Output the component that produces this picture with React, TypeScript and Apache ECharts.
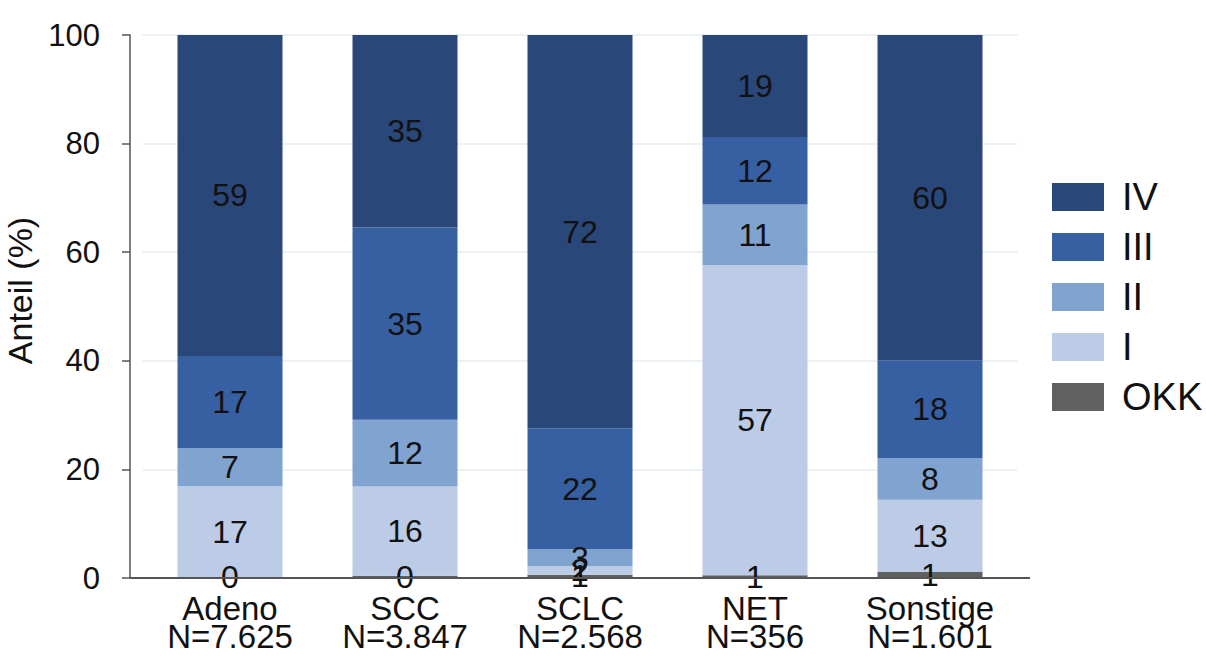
import React, { useEffect, useRef } from "react";
import * as echarts from "echarts";

const categories = ["Adeno", "SCC", "SCLC", "NET", "Sonstige"];
const counts = ["7.625", "3.847", "2.568", "356", "1.601"];
const okk = [0.2, 0.4, 0.6, 0.5, 1.1];
const stageI = [16.7, 16.45, 1.6, 57.1, 13.3];
const stageII = [7.0, 12.3, 3.1, 11.2, 7.7];
const stageIII = [17.0, 35.4, 22.3, 12.4, 18.0];
const stageIV = [59.1, 35.45, 72.4, 18.8, 59.9];
const yTicks = [0, 20, 40, 60, 80, 100];

const seriesDefs = [
  { name: "OKK", data: okk, color: "#606060" },
  { name: "I", data: stageI, color: "#bccce7" },
  { name: "II", data: stageII, color: "#80a3d0" },
  { name: "III", data: stageIII, color: "#3760a3" },
  { name: "IV", data: stageIV, color: "#2a4779" },
];

export default function App() {
  const ref = useRef<HTMLDivElement>(null);
  useEffect(() => {
    if (!ref.current) return;
    const chart = echarts.init(ref.current, null, { renderer: "svg" });
    const font = "Liberation Sans, Arial, sans-serif";
    chart.setOption({
      animation: false,
      textStyle: { fontFamily: font },
      grid: { left: 142.5, right: 188.5, top: 35, bottom: 79, outerBoundsMode: "none", containLabel: false },
      legend: {
        orient: "vertical",
        left: 1052,
        top: 178,
        padding: 0,
        itemWidth: 52,
        itemHeight: 28,
        itemGap: 12,
        icon: "rect",
        data: ["IV", "III", "II", "I", "OKK"],
        textStyle: {
          fontSize: 38,
          lineHeight: 28,
          color: "#111",
          fontFamily: font,
          padding: [0, 0, 0, 13],
        },
      },
      xAxis: {
        type: "category",
        data: categories,
        axisLine: { show: false },
        axisTick: { show: false },
        axisLabel: {
          fontSize: 33,
          lineHeight: 28,
          color: "#111",
          margin: 16,
          fontFamily: font,
          formatter: (v: string) => {
            const i = categories.indexOf(v);
            return v + "\nN=" + counts[i];
          },
        },
      },
      yAxis: {
        type: "value",
        min: yTicks[0],
        max: yTicks[yTicks.length - 1],
        interval: 20,
        offset: 12.5,
        name: "Anteil (%)",
        nameLocation: "middle",
        nameRotate: 90,
        nameGap: 87,
        nameTextStyle: { fontSize: 34, color: "#111", fontFamily: font, padding: [0, 0, 0, 32] },
        axisLine: { show: true, lineStyle: { color: "#555", width: 1.5 } },
        axisTick: { show: true, length: 8, lineStyle: { color: "#555", width: 1.5 } },
        axisLabel: { fontSize: 31, color: "#111", margin: 30, fontFamily: font },
        splitLine: { show: true, lineStyle: { color: "#e6edf1", width: 1.5 } },
      },
      graphic: [
        {
          type: "line",
          shape: { x1: 130, y1: 578, x2: 1030, y2: 578 },
          style: { stroke: "#555", lineWidth: 2 },
          z: 10,
        },
      ],
      series: seriesDefs.map((s) => ({
        name: s.name,
        type: "bar",
        stack: "total",
        barWidth: "60%",
        data: s.data,
        itemStyle: { color: s.color },
        label: {
          show: true,
          position: "inside",
          fontSize: 32,
          color: "#111",
          fontFamily: font,
          formatter: (p: any) => String(Math.round(p.value)),
        },
      })),
    });
    return () => chart.dispose();
  }, []);
  return <div ref={ref} style={{ width: 1206, height: 657, position: "absolute", left: 0, top: 0 }} />;
}
